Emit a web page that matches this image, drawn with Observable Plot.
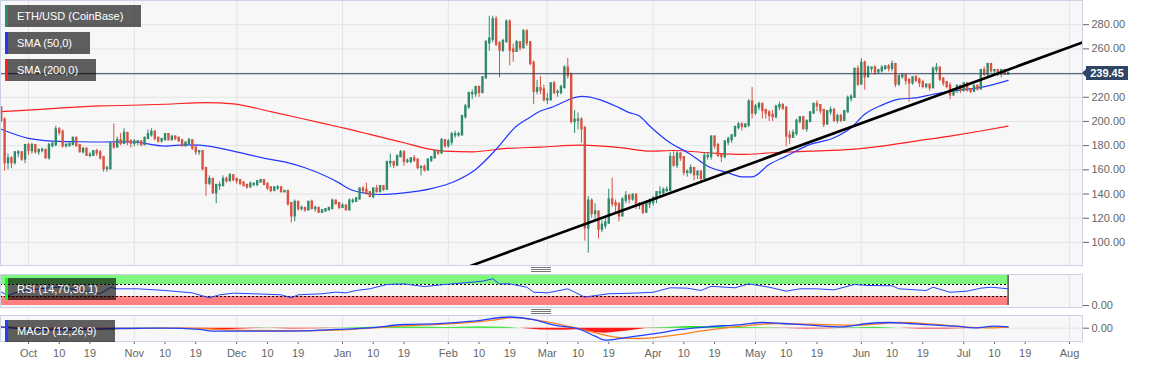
<!DOCTYPE html>
<html><head><meta charset="utf-8">
<script src="https://cdn.jsdelivr.net/npm/d3@7"></script>
<script src="https://cdn.jsdelivr.net/npm/@observablehq/plot@0.6"></script>
<style>
body{margin:0;background:#fff;font-family:"Liberation Sans",Arial,sans-serif;}
#wrap{position:relative;width:1153px;height:367px;overflow:hidden;background:#fff;}
.panel{position:absolute;left:0;}
.tag{position:absolute;left:5px;height:22px;line-height:22px;background:rgba(0,0,0,0.62);color:#fff;font-size:11px;padding-left:12px;box-sizing:border-box;white-space:nowrap;}
.tag i{position:absolute;left:0;top:0;bottom:0;width:3px;}
.handle{position:absolute;left:531px;width:20px;height:1px;background:#777;}
#ptag{position:absolute;left:1086px;width:42px;height:14px;line-height:14px;background:#2e4563;color:#fff;font-weight:bold;font-size:11px;text-align:center;}
#ptag:before{content:"";position:absolute;left:-4px;top:3px;border-top:4px solid transparent;border-bottom:4px solid transparent;border-right:4px solid #2e4563;}
</style></head>
<body>
<div id="wrap"></div>
<script>
// ---- Data (ETH/USD daily, CoinBase), first candle 2019-09-22 ----
const firstDay = "2019-09-22";
const opens = [
 215,211,201,166,169,166,174,174,169,
 180,176,180,175,176,176,170,180,181,193,191,180,180,181,186,180,175,177,172,172,175,174,170,161,161,181,179,184,182,190,183,
 182,183,183,181,186,189,191,186,184,185,189,185,187,186,184,180,182,184,178,175,175,161,149,152,141,147,147,152,151,155,
 152,151,149,147,146,148,148,150,151,148,145,143,145,145,142,142,132,122,133,128,128,127,133,128,128,125,126,127,128,134,132,
 129,130,127,134,134,136,144,143,141,138,144,142,146,144,166,166,164,171,174,167,167,169,168,162,162,160,168,170,175,174,184,
 180,183,189,189,189,204,212,223,223,228,224,236,265,268,284,264,259,266,282,259,258,265,261,274,265,248,225,227,226,
 218,218,231,224,224,228,244,238,200,201,201,194,112,134,124,125,111,114,116,135,132,131,122,135,138,136,139,131,131,125,132,
 133,136,141,141,143,143,170,164,173,170,158,158,161,156,158,153,171,171,187,180,172,171,183,185,188,195,197,196,197,216,
 207,212,214,209,207,205,204,212,213,211,188,187,190,200,203,194,200,207,214,213,209,198,208,209,201,204,201,208,219,220,243,
 231,248,237,244,244,241,242,244,245,244,247,231,237,238,234,232,236,234,232,229,230,228,243,244,235,232,229,222,226,229,
 226,231,226,225,229,227,242,239,247,242,242,239,242,239];
const highs = [
 220,212,203,173,171,175,176,175,181,
 182,182,181,177,178,177,182,183,196,195,193,182,182,187,187,181,178,178,174,176,177,176,171,163,183,198,187,190,194,191,185,
 185,184,184,187,193,194,192,187,186,190,190,188,188,187,185,183,186,184,179,176,176,162,155,152,148,150,155,154,157,156,
 153,152,150,148,150,149,151,152,151,149,146,146,147,146,143,143,133,135,134,130,129,134,135,130,129,127,128,129,136,135,133,
 132,131,136,136,137,145,146,149,142,145,147,147,147,167,173,167,172,176,176,169,170,172,169,163,164,169,171,176,176,186,185,
 185,191,192,191,205,214,224,226,229,229,237,267,287,287,287,266,268,284,284,264,267,266,276,276,266,250,234,237,230,
 223,232,233,226,230,246,252,240,209,207,203,196,138,136,132,126,118,121,144,153,135,133,137,142,140,140,140,133,132,134,136,
 138,142,146,145,146,174,175,175,174,171,160,164,162,159,159,174,174,188,188,182,173,184,187,189,196,199,199,198,218,228,
 214,216,215,210,209,209,213,216,215,212,192,193,202,204,204,201,208,215,217,214,210,209,212,211,206,206,209,221,222,244,246,
 252,250,246,245,246,243,246,246,247,250,248,238,239,239,235,237,238,236,234,231,230,245,248,245,236,233,232,226,230,229,
 232,232,227,230,230,243,245,248,248,243,243,243,243,241];
const lows = [
 208,199,159,160,161,164,170,167,165,
 172,173,173,172,174,169,168,178,179,188,178,178,179,180,179,174,173,171,170,171,171,168,158,158,160,177,178,180,181,180,178,
 179,180,179,180,185,187,184,182,182,184,184,184,184,183,179,179,181,176,172,172,159,138,147,140,132,143,146,149,150,150,
 148,147,146,144,145,146,146,149,147,143,141,142,143,141,141,130,116,117,126,126,125,126,127,125,124,124,125,126,127,131,127,
 128,126,126,132,134,135,141,139,137,136,141,141,142,143,162,161,163,170,163,165,165,166,160,155,158,159,166,169,172,173,178,
 178,180,186,187,188,202,210,218,220,220,223,236,258,265,262,236,257,265,246,249,257,258,260,262,246,214,222,222,216,
 214,217,222,220,222,227,235,198,190,193,182,101,91,120,119,103,108,111,115,129,124,117,121,132,132,134,127,127,123,124,128,
 130,132,138,139,141,142,162,161,167,155,154,156,151,152,150,152,168,168,177,170,166,169,180,182,187,193,192,194,195,202,
 205,209,202,202,200,200,202,209,209,179,181,186,188,198,193,191,199,206,208,206,195,197,205,199,198,199,200,207,216,219,229,
 230,226,236,240,238,239,240,242,241,241,228,229,235,230,216,230,232,228,227,227,225,227,240,233,229,227,218,221,223,223,
 224,224,223,224,225,226,237,237,240,239,237,236,238,238];
const closes = [
 211,201,166,169,166,174,174,169,180,
 176,180,175,176,176,170,180,181,193,191,180,180,181,186,180,175,177,172,172,175,174,170,161,161,181,179,184,182,190,183,182,
 183,183,181,186,189,191,186,184,185,189,185,187,186,184,180,182,184,178,175,175,161,149,152,141,147,147,152,151,155,152,
 151,149,147,146,148,148,150,151,148,145,143,145,145,142,142,132,122,133,128,128,127,133,128,128,125,126,127,128,134,132,129,
 130,127,134,134,136,144,143,141,138,144,142,146,144,166,166,164,171,174,167,167,169,168,162,162,160,168,170,175,174,184,180,
 183,189,189,189,204,212,223,223,228,224,236,265,268,284,264,259,266,282,259,258,265,261,274,265,248,225,227,226,218,
 218,231,224,224,228,244,238,200,201,201,194,112,134,124,125,111,114,116,135,132,131,122,135,138,136,139,131,131,125,132,133,
 136,141,141,143,143,170,164,173,170,158,158,161,156,158,153,171,171,187,180,172,171,183,185,188,195,197,196,197,216,207,
 212,214,209,207,205,204,212,213,211,188,187,190,200,203,194,200,207,214,213,209,198,208,209,201,204,201,208,219,220,243,231,
 248,237,244,244,241,242,244,245,244,247,231,237,238,234,232,236,234,232,229,230,228,243,244,235,232,229,222,226,229,226,
 231,226,225,229,227,242,239,247,242,242,239,242,239,239.45];

const sma50 = [["2019-09-23",193.5],["2019-10-01",186],["2019-10-08",183.8],["2019-10-16",183.2],["2019-10-22",183],["2019-10-31",183.2],
 ["2019-11-10",179.6],["2019-11-16",180.7],["2019-11-20",180.4],["2019-11-30",175.5],["2019-12-10",169],["2019-12-15",166.6],["2019-12-21",161.7],
 ["2019-12-31",149.2],["2020-01-03",144.2],["2020-01-07",141],["2020-01-12",139.6],["2020-01-19",141],["2020-01-27",144.5],["2020-02-03",150.6],
 ["2020-02-09",160.3],["2020-02-15",176.9],["2020-02-21",196.2],["2020-02-24",201.8],["2020-02-28",208.7],["2020-03-02",211.4],["2020-03-11",220.8],
 ["2020-03-22",211.4],["2020-03-25",207.3],["2020-03-28",204.5],["2020-03-31",196.2],["2020-04-05",184.3],["2020-04-12",172.7],["2020-04-17",163],
 ["2020-04-23",157.5],["2020-04-27",154.2],["2020-04-30",154.2],["2020-05-05",164.4],["2020-05-10",171.3],["2020-05-17",181],["2020-05-24",186.5],
 ["2020-05-29",194.8],["2020-06-02",205.9],["2020-06-07",213.5],["2020-06-12",218.4],["2020-06-17",219.5],["2020-06-22",222.5],["2020-06-27",224.7],
 ["2020-07-02",226.7],["2020-07-06",228.2],["2020-07-14",234]];
const sma200 = [["2019-09-23",208.1],["2019-10-02",209.5],["2019-10-12",211.4],["2019-10-22",212.8],["2019-10-31",213.4],["2019-11-10",214.2],
 ["2019-11-22",215.6],["2019-11-30",214.5],["2019-12-11",208.1],["2019-12-21",201.8],["2019-12-31",195.4],["2020-01-03",193.5],["2020-01-09",189.3],
 ["2020-01-19",182.4],["2020-01-27",176.9],["2020-01-31",175.5],["2020-02-08",174.9],["2020-02-18",177.7],["2020-02-28",178.8],["2020-03-11",180.4],
 ["2020-03-23",178.2],["2020-03-31",175.5],["2020-04-07",176],["2020-04-17",174.1],["2020-04-27",172.7],["2020-05-06",174.1],["2020-05-17",175.5],
 ["2020-05-29",176.9],["2020-06-07",179.6],["2020-06-17",183.8],["2020-06-27",187.9],["2020-07-06",192.1],["2020-07-14",196.2]];
const trendLine = [["2020-02-06",79],["2020-08-05",265.5]];
const lastPrice = 239.45;

const rsi = [["2019-09-23",45],["2019-09-25",33],["2019-09-29",50],["2019-10-04",55],["2019-10-10",62],["2019-10-16",50],["2019-10-22",40],
 ["2019-10-25",60],["2019-10-27",55.6],["2019-11-02",55.6],["2019-11-10",50],["2019-11-18",42],["2019-11-23",25.6],["2019-11-26",35.6],["2019-11-30",41],
 ["2019-12-06",39],["2019-12-14",35.6],["2019-12-17",25.6],["2019-12-19",35.6],["2019-12-26",39],["2019-12-30",44.4],["2020-01-02",42],["2020-01-05",50],
 ["2020-01-09",55.6],["2020-01-14",70],["2020-01-19",72],["2020-01-25",63],["2020-01-31",70],["2020-02-06",75.6],["2020-02-11",81],["2020-02-14",89],
 ["2020-02-16",72],["2020-02-19",72],["2020-02-24",61],["2020-02-26",44.4],["2020-03-01",42],["2020-03-07",55.6],["2020-03-08",50],["2020-03-12",27.8],
 ["2020-03-15",33],["2020-03-19",39],["2020-03-26",41],["2020-04-01",44],["2020-04-06",59],["2020-04-11",57.8],["2020-04-15",50],["2020-04-18",64],
 ["2020-04-25",59],["2020-04-29",72],["2020-05-05",61],["2020-05-10",47.8],["2020-05-14",55.6],["2020-05-19",55.6],["2020-05-24",52],["2020-05-30",70],
 ["2020-06-03",66.7],["2020-06-10",65.6],["2020-06-12",55.6],["2020-06-20",50],["2020-06-22",61],["2020-06-27",44],["2020-07-02",47.8],["2020-07-06",57.8],
 ["2020-07-09",61],["2020-07-14",55.6]];
const rsiUpper = 70, rsiLower = 30;

const macd = [["2019-09-23",2],["2019-10-05",-3],["2019-10-20",-2],["2019-10-27",-0.6],["2019-11-10",0],["2019-11-20",-2.5],["2019-11-25",-5.9],
 ["2019-12-10",-5.9],["2019-12-20",-5.2],["2019-12-30",-2.5],["2020-01-09",0.7],["2020-01-19",7.2],["2020-01-29",9],["2020-02-08",13.7],["2020-02-19",22],
 ["2020-02-26",17],["2020-03-03",5.9],["2020-03-10",-0.7],["2020-03-15",-15.7],["2020-03-18",-23.5],["2020-03-24",-18.3],["2020-04-03",-9.2],["2020-04-09",-2.5],
 ["2020-04-17",2.6],["2020-04-27",7.2],["2020-05-03",11.2],["2020-05-09",9.2],["2020-05-17",5.9],["2020-05-26",2.6],["2020-06-03",9.2],["2020-06-09",11.2],
 ["2020-06-15",9.2],["2020-06-23",5.9],["2020-06-29",3.9],["2020-07-04",0.6],["2020-07-10",3.9],["2020-07-14",2.6]];
const signal = [["2019-09-23",3],["2019-10-10",-2],["2019-10-27",-1],["2019-11-10",0],["2019-11-20",-0.6],["2019-11-30",-3.9],["2019-12-20",-5.2],
 ["2019-12-30",-3.9],["2020-01-19",4.5],["2020-01-31",7.8],["2020-02-14",15.7],["2020-02-20",20.9],["2020-03-01",12.4],["2020-03-08",2.6],["2020-03-14",-7.2],
 ["2020-03-22",-18.3],["2020-03-28",-20.2],["2020-04-05",-15.7],["2020-04-17",-3.9],["2020-04-27",3.9],["2020-05-07",9.2],["2020-05-17",7.8],["2020-05-31",5.9],
 ["2020-06-12",11.2],["2020-06-22",7.8],["2020-07-01",2.6],["2020-07-09",0.6],["2020-07-14",2]];
const histogram = [["2019-09-23",0],["2019-10-05",-1.5],["2019-10-20",-1],["2019-11-01",0.5],["2019-11-12",0.5],["2019-11-20",-2],["2019-11-26",-3.5],
 ["2019-12-03",-1.5],["2019-12-10",0.5],["2019-12-17",-1.5],["2019-12-24",-1],["2020-01-01",0.5],["2020-01-10",2],["2020-01-20",2.5],["2020-01-31",1.5],
 ["2020-02-10",2.5],["2020-02-17",2],["2020-02-22",0],["2020-02-28",-3.5],["2020-03-05",-4],["2020-03-10",-3],["2020-03-14",-8],["2020-03-18",-10],
 ["2020-03-24",-6],["2020-03-30",-0.5],["2020-04-05",1.5],["2020-04-12",3.5],["2020-04-18",3],["2020-04-25",1.5],["2020-05-03",1],["2020-05-10",-0.5],
 ["2020-05-16",-1.5],["2020-05-22",-1],["2020-05-30",1],["2020-06-05",2],["2020-06-12",0],["2020-06-18",-1.5],["2020-06-26",-1.5],["2020-07-03",-0.5],
 ["2020-07-09",1],["2020-07-14",0.3]];

const priceTicks = [100,120,140,160,180,200,220,240,260,280];
const monthStarts = ["2019-10-01","2019-11-01","2019-12-01","2020-01-01","2020-02-01","2020-03-01","2020-04-01","2020-05-01","2020-06-01","2020-07-01","2020-08-01"];
const monthLabels = ["Oct","Nov","Dec","Jan","Feb","Mar","Apr","May","Jun","Jul","Aug"];
const dayTicks = [10, 19];

// ---- Build ----
const P = s => new Date(s + "T00:00:00Z");
const start = P(firstDay);
const candles = closes.map((c, i) => ({date: d3.utcDay.offset(start, i), open: opens[i], high: highs[i], low: lows[i], close: c}));
const pts = arr => arr.map(([d, v]) => ({date: P(d), v}));
const xDomain = [new Date(Date.UTC(2019, 8, 22, 19, 12)), new Date(Date.UTC(2020, 7, 4, 19, 12))];
const lastDate = candles[candles.length - 1].date;
const months = monthStarts.map(P);
const xTicks = [];
months.forEach((m, i) => { xTicks.push({date: m, label: monthLabels[i]}); if (i < months.length - 1) dayTicks.forEach(d => xTicks.push({date: d3.utcDay.offset(m, d - 1), label: String(d)})); });

const UP = "#2f8a6c", DOWN = "#d7523f", GRID = "#e4e4e4", BORDER = "#cbd2e4", BG = "#f7f7f7", AX = "#666";
const common = {width: 1153, marginLeft: 0, marginRight: 71, style: {fontFamily: "'Liberation Sans', Arial, sans-serif", fontSize: "11px", background: "transparent", overflow: "visible"}};
const wrap = document.getElementById("wrap");
function place(el, top) { const d = document.createElement("div"); d.className = "panel"; d.style.top = top + "px"; d.appendChild(el); wrap.appendChild(d); }

const main = Plot.plot({...common, height: 265, marginTop: 0, marginBottom: 0,
  x: {type: "utc", domain: xDomain, axis: null},
  y: {domain: [80.9, 300], axis: null},
  marks: [
    Plot.frame({fill: BG}),
    Plot.gridY(priceTicks, {stroke: GRID, strokeOpacity: 1}),
    Plot.gridX(months, {stroke: GRID, strokeOpacity: 1}),
    Plot.axisY(priceTicks, {anchor: "right", label: null, tickFormat: d => d.toFixed(2), tickSize: 6, tickPadding: 3, color: AX, fontSize: 11}),
    Plot.line(pts(sma200), {x: "date", y: "v", stroke: "#ff1f1f", strokeWidth: 1.2, curve: "monotone-x", clip: true}),
    Plot.line(pts(sma50), {x: "date", y: "v", stroke: "#2238ff", strokeWidth: 1.2, curve: "monotone-x", clip: true}),
    Plot.ruleX(candles, {filter: d => d.close >= d.open, x: "date", y1: "low", y2: "high", stroke: UP, strokeWidth: 1, clip: true}),
    Plot.ruleX(candles, {filter: d => d.close < d.open, x: "date", y1: "low", y2: "high", stroke: DOWN, strokeWidth: 1, clip: true}),
    Plot.ruleX(candles, {filter: d => d.close >= d.open, x: "date", y1: "open", y2: "close", stroke: UP, strokeWidth: 2.4, strokeLinecap: "square", clip: true}),
    Plot.ruleX(candles, {filter: d => d.close < d.open, x: "date", y1: "open", y2: "close", stroke: DOWN, strokeWidth: 2.4, strokeLinecap: "square", clip: true}),
    Plot.ruleY([lastPrice], {stroke: "#2e4563", strokeWidth: 1}),
    Plot.line(pts(trendLine), {x: "date", y: "v", stroke: "#000", strokeWidth: 2.6, clip: true}),
    Plot.frame({stroke: BORDER})
  ]});
place(main, 0);

const rsiPlot = Plot.plot({...common, height: 33, marginTop: 0, marginBottom: 0,
  x: {type: "utc", domain: xDomain, axis: null},
  y: {domain: [-6.7, 103.3], axis: null},
  marks: [
    Plot.frame({fill: BG}),
    Plot.gridX(months, {stroke: GRID, strokeOpacity: 1}),
    Plot.rect([{x1: xDomain[0], x2: lastDate, y1: rsiUpper, y2: 100}], {x1: "x1", x2: "x2", y1: "y1", y2: "y2", fill: "#7df77d"}),
    Plot.rect([{x1: xDomain[0], x2: lastDate, y1: 0, y2: rsiLower}], {x1: "x1", x2: "x2", y1: "y1", y2: "y2", fill: "#ff8080"}),
    Plot.ruleY([rsiUpper, rsiLower].map(v => ({v, x1: xDomain[0], x2: lastDate})), {y: "v", x1: "x1", x2: "x2", stroke: "#000", strokeDasharray: "2,2"}),
    Plot.ruleX([lastDate], {y1: 0, y2: 100, stroke: "#000"}),
    Plot.line(pts(rsi), {x: "date", y: "v", stroke: "#2545ff", strokeWidth: 1}),
    Plot.axisY([0], {anchor: "right", label: null, tickFormat: d => d.toFixed(2), tickSize: 6, tickPadding: 3, color: AX, fontSize: 11}),
    Plot.frame({stroke: BORDER})
  ]});
place(rsiPlot, 274);

const macdPlot = Plot.plot({...common, height: 52, marginTop: 0, marginBottom: 26,
  x: {type: "utc", domain: xDomain},
  y: {domain: [-26.1, 24.9], axis: null},
  marks: [
    Plot.frame({fill: BG}),
    Plot.gridX(months, {stroke: GRID, strokeOpacity: 1}),
    Plot.gridY([0], {stroke: GRID, strokeOpacity: 1}),
    Plot.areaY(pts(histogram), {x: "date", y: d => Math.max(0, d.v), fill: "#19e019"}),
    Plot.areaY(pts(histogram), {x: "date", y: d => Math.min(0, d.v), fill: "#ff1a1a"}),
    Plot.line(pts(signal), {x: "date", y: "v", stroke: "#ff7f1f", strokeWidth: 1.3, curve: "monotone-x"}),
    Plot.line(pts(macd), {x: "date", y: "v", stroke: "#2040ff", strokeWidth: 1.3, curve: "monotone-x"}),
    Plot.axisY([0], {anchor: "right", label: null, tickFormat: d => d.toFixed(2), tickSize: 6, tickPadding: 3, color: AX, fontSize: 11}),
    Plot.axisX(xTicks.map(t => t.date), {anchor: "bottom", label: null, tickFormat: d => xTicks.find(t => +t.date === +d).label, tickSize: 3, tickPadding: 5, color: AX, fontSize: 11}),
    Plot.frame({stroke: BORDER})
  ]});
place(macdPlot, 315);

// legend tags
const tags = [["ETH/USD (CoinBase)", UP, 5, 136], ["SMA (50,0)", "#2238ff", 32, 85], ["SMA (200,0)", "#ff1f1f", 59, 91], ["RSI (14,70,30,1)", "#22ee22", 278, 111], ["MACD (12,26,9)", "#2040ff", 320, 110]];
tags.forEach(([t, c, top, w]) => { const d = document.createElement("div"); d.className = "tag"; d.style.top = top + "px"; d.style.width = w + "px"; d.innerHTML = `<i style="background:${c}"></i>${t}`; wrap.appendChild(d); });
[267, 269, 271, 309, 311, 313].forEach(y => { const h = document.createElement("div"); h.className = "handle"; h.style.top = y + "px"; wrap.appendChild(h); });
const pt = document.createElement("div"); pt.id = "ptag"; pt.textContent = lastPrice.toFixed(2);
pt.style.top = (main.scale("y").apply(lastPrice) - 7) + "px"; wrap.appendChild(pt);
</script>
</body></html>
